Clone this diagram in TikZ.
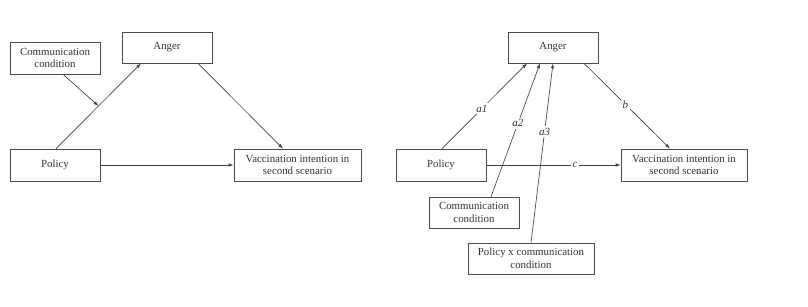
\documentclass[tikz,border=0pt]{standalone}
\usepackage{fontspec}
\setmainfont{Liberation Serif}
\usetikzlibrary{arrows.meta}
\begin{document}
\begin{tikzpicture}[x=1bp,y=-1bp,
  box/.style={draw=black!70, line width=0.65bp, rectangle, align=center, inner sep=0pt,
    font=\fontsize{10.9}{12.7}\selectfont, text=black!80},
  conn/.style={draw=black!75, line width=0.65bp},
  arr/.style={conn, -{Latex[length=5bp,width=3.4bp]}},
  lab/.style={fill=white, inner sep=1.5bp, font=\fontsize{11}{12}\selectfont\itshape, text=black!80}]
\useasboundingbox (0,0) rectangle (808,306);
% left diagram
\node[box, minimum width=90bp, minimum height=32bp] (comm1) at (55,58) {Communication\\condition};
\node[box, minimum width=90bp, minimum height=31bp] (anger1) at (167,47.5) {Anger};
\node[box, minimum width=90bp, minimum height=32bp] (policy1) at (55,165) {Policy};
\node[box, minimum width=127bp, minimum height=32bp] (vacc1) at (297.5,165) {Vaccination intention in\\second scenario};
\draw[arr] ([xshift=1bp]policy1.north) -- coordinate[pos=0.5] (mid1) ([xshift=-26bp]anger1.south);
\draw[arr] ([xshift=8bp]comm1.south) -- (mid1);
\draw[arr] ([xshift=31bp]anger1.south) -- ([xshift=-14.5bp]vacc1.north);
\draw[arr] (policy1.east) -- (vacc1.west);
% right diagram
\node[box, minimum width=90bp, minimum height=31bp] (anger2) at (553,47.5) {Anger};
\node[box, minimum width=90bp, minimum height=32bp] (policy2) at (441,165) {Policy};
\node[box, minimum width=126bp, minimum height=32bp] (vacc2) at (684,165) {Vaccination intention in\\second scenario};
\node[box, minimum width=90bp, minimum height=31bp] (comm2) at (474,212.5) {Communication\\condition};
\node[box, minimum width=126bp, minimum height=31bp] (pxc2) at (531,258.5) {Policy x communication\\condition};
\draw[arr] ([xshift=1bp]policy2.north) -- node[lab, pos=0.47] {a1} ([xshift=-26bp]anger2.south);
\draw[arr] ([xshift=17bp]comm2.north) -- node[lab, pos=0.55] {a2} ([xshift=-13bp]anger2.south);
\draw[arr] (pxc2.north) -- node[lab, pos=0.62] {a3} (anger2.south);
\draw[arr] ([xshift=31bp]anger2.south) -- node[lab, pos=0.48] {b} ([xshift=-14bp]vacc2.north);
\draw[arr] (policy2.east) -- node[lab, pos=0.66] {c} (vacc2.west);
\end{tikzpicture}
\end{document}
